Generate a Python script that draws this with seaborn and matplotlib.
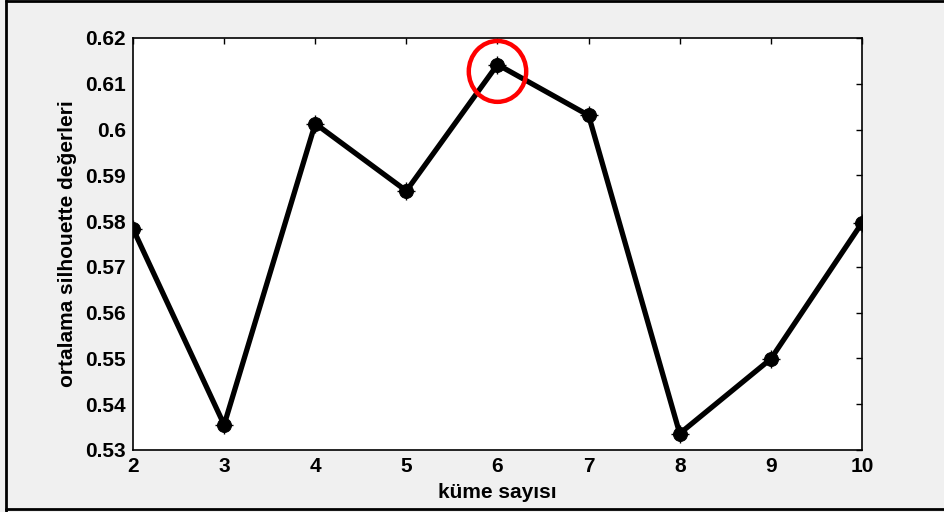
import numpy as np
import pandas as pd
import seaborn as sns
import matplotlib.pyplot as plt
from matplotlib.patches import Ellipse
from matplotlib.lines import Line2D

# kume sayisi vs ortalama silhouette
kume = [2, 3, 4, 5, 6, 7, 8, 9, 10]
silhouette = [0.5783, 0.5355, 0.6013, 0.5866, 0.6142, 0.6031, 0.5336, 0.5499, 0.5796]
y_ticks = [0.53, 0.54, 0.55, 0.56, 0.57, 0.58, 0.59, 0.6, 0.61, 0.62]
y_tick_labels = ["0.53", "0.54", "0.55", "0.56", "0.57", "0.58", "0.59", "0.6", "0.61", "0.62"]
best_k = 6

df = pd.DataFrame({"kume": kume, "sil": silhouette})

sns.set_style("white")
plt.rcParams['font.family'] = ['Liberation Sans', 'DejaVu Sans']
plt.rcParams['font.weight'] = 'bold'
plt.rcParams['axes.labelcolor'] = 'black'
plt.rcParams['text.color'] = 'black'

fig = plt.figure(figsize=(9.44, 5.12), dpi=100, facecolor="#f0f0f0")
ax = fig.add_axes([0.1409, 0.1211, 0.7722, 0.8047])
ax.set_facecolor("white")

sns.lineplot(data=df, x="kume", y="sil", ax=ax, color="black", linewidth=3.8,
             marker="o", markersize=10, markeredgecolor="black", markerfacecolor="black")
ax.plot(kume, silhouette, linestyle="none", marker="+", markersize=13,
        color="black", markeredgewidth=1)

# red circle on best k
yb = silhouette[kume.index(best_k)]
ax.add_patch(Ellipse((best_k, yb - 0.0015), width=0.63, height=0.0133, fill=False,
                     edgecolor="red", linewidth=3.2, zorder=5))

ax.set_xlim(2, 10)
ax.set_ylim(0.53, 0.62)
ax.set_xticks(kume)
ax.set_yticks(y_ticks)
ax.set_yticklabels(y_tick_labels)
ax.tick_params(direction="in", length=4, width=1, top=True, right=True,
               labelsize=15, pad=5, colors="black")
for lab in ax.get_xticklabels() + ax.get_yticklabels():
    lab.set_fontweight("bold")
for sp in ax.spines.values():
    sp.set_visible(True)
    sp.set_color("black")
    sp.set_linewidth(1.2)

ax.set_xlabel("küme sayısı", fontsize=15, fontweight="bold", labelpad=5, color="black")
ax.set_ylabel("ortalama silhouette değerleri", fontsize=15, fontweight="bold", labelpad=6, color="black")

# outer frame
fig.add_artist(Line2D([6/944, 6/944], [0, 1], transform=fig.transFigure, color="black", linewidth=2))
fig.add_artist(Line2D([6/944, 1], [1 - 1/512, 1 - 1/512], transform=fig.transFigure, color="black", linewidth=2))
fig.add_artist(Line2D([6/944, 1], [1 - 508.5/512, 1 - 508.5/512], transform=fig.transFigure, color="black", linewidth=2))

fig.savefig("out.png", dpi=100, facecolor=fig.get_facecolor())
